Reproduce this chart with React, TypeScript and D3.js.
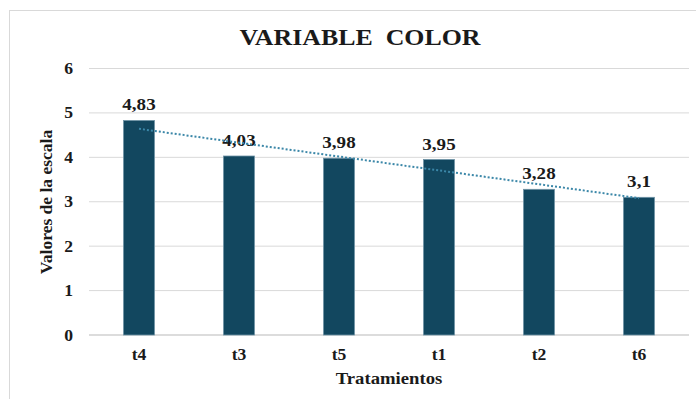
import React from "react";
import * as d3 from "d3";

const categories = ["t4", "t3", "t5", "t1", "t2", "t6"];
const values = [4.83, 4.03, 3.98, 3.95, 3.28, 3.1];
const valueLabels = ["4,83", "4,03", "3,98", "3,95", "3,28", "3,1"];
const yTicks = [0, 1, 2, 3, 4, 5, 6];

const W = 696;
const H = 399;
const FONT = "'Liberation Serif', 'Times New Roman', serif";

function T(props: { x: number; y: number; size: number; sx?: number; anchor?: string; children: React.ReactNode }) {
  const { x, y, size, sx = 1.12, anchor = "middle", children } = props;
  return (
    <text
      transform={`translate(${x},${y}) scale(${sx},1)`}
      textAnchor={anchor}
      fontFamily={FONT}
      fontWeight="bold"
      fontSize={size}
      fill="#1a1a1a"
      style={{ whiteSpace: "pre" }}
    >
      {children}
    </text>
  );
}

export default function App() {
  const x = d3.scaleBand<string>().domain(categories).range([89, 689]).paddingInner(0.69).paddingOuter(0.345);
  const y = d3.scaleLinear().domain([0, 6]).range([335, 68.5]);

  // linear trend line (least squares over category index 1..n)
  const xs = values.map((_, i) => i + 1);
  const mx = d3.mean(xs) as number;
  const my = d3.mean(values) as number;
  const sxy = d3.sum(xs.map((xi, i) => (xi - mx) * (values[i] - my)));
  const sxx = d3.sum(xs.map((xi) => (xi - mx) ** 2));
  const slope = sxy / sxx;
  const icpt = my - slope * mx;
  const trend = categories.map((c, i) => [
    (x(c) as number) + x.bandwidth() / 2,
    y(icpt + slope * (i + 1)),
  ] as [number, number]);
  const line = d3.line();

  return (
    <svg width={W} height={H} style={{ display: "block", position: "absolute", left: 0, top: 0 }}>
      <rect x={0} y={0} width={W} height={H} fill="#fff" />
      <rect x={9.5} y={10.5} width={720} height={420} fill="none" stroke="#d9d9d9" strokeWidth={1} />
      <T x={360} y={45} size={22.5} sx={1.15}>{"VARIABLE\u00a0\u00a0COLOR"}</T>
      {yTicks.map((t) => (
        <g key={t}>
          <line x1={89} x2={689} y1={y(t)} y2={y(t)} stroke={t === 0 ? "#d0d0d0" : "#d9d9d9"} strokeWidth={t === 0 ? 1.5 : 1} />
          <T x={73} y={y(t) + 5.5} size={16} sx={1.1} anchor="end">{t}</T>
        </g>
      ))}
      {categories.map((c, i) => (
        <g key={c}>
          <rect
            x={x(c)}
            y={y(values[i])}
            width={x.bandwidth()}
            height={y(0) - y(values[i])}
            fill="#12475f"
            stroke="#6f93a6"
            strokeWidth={0.8}
          />
          <T x={(x(c) as number) + x.bandwidth() / 2} y={y(values[i]) - 10} size={17} sx={1.12}>
            {valueLabels[i]}
          </T>
          <T x={(x(c) as number) + x.bandwidth() / 2} y={360} size={16} sx={1.1}>
            {c}
          </T>
        </g>
      ))}
      <path d={line(trend) || ""} fill="none" stroke="#3b87a8" strokeWidth={2} strokeDasharray="2 2" />
      <T x={389} y={384} size={17} sx={1.1}>Tratamientos</T>
      <text
        transform="translate(52,202) rotate(-90)"
        textAnchor="middle"
        fontFamily={FONT}
        fontWeight="bold"
        fontSize={17.5}
        fill="#1a1a1a"
      >
        Valores de la escala
      </text>
    </svg>
  );
}
